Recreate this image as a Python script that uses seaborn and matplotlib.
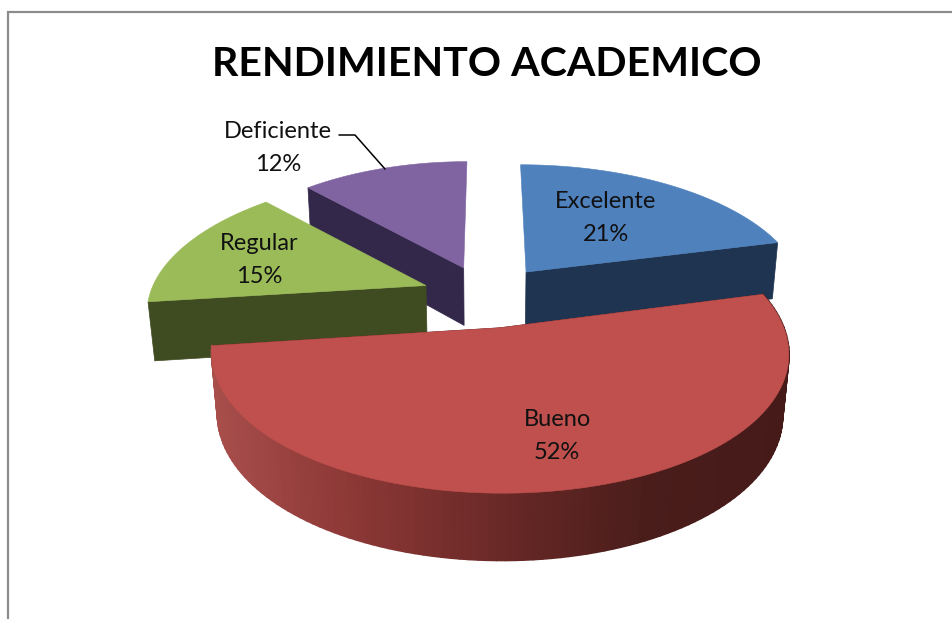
import numpy as np
import matplotlib
matplotlib.use('Agg')
import matplotlib.pyplot as plt
import seaborn as sns

categories = ['Excelente', 'Bueno', 'Regular', 'Deficiente']
values = [21, 52, 15, 12]
top_colors = ['#4F81BD', '#C0504D', '#9BBB59', '#8064A2']
wall_colors = ['#1F3450', '#4A1D1B', '#3F4B20', '#33284A']
title = 'RENDIMIENTO ACADEMICO'

sns.set_theme(style='white')
plt.rcParams['font.family'] = ['Lato', 'DejaVu Sans']

# projection settings, fitted by eye
CX, CY = 487, 296
RX, RY = 274, 130
EXPLODE = 0.24
PERSP_X, PERSP_Y, PERSP_Z = 0.17, 0.15, 0.02
DEPTH = 60
WIDEN = [1.025, 0.995, 1.01, 0.98]
HIDDEN_WALLS = [(0, 0), (3, 1), (2, 1)]


def project(X, Y, z=0.0):
    wx = 1 - PERSP_X * Y + PERSP_Z * z
    wy = 1 - PERSP_Y * Y + PERSP_Z * z
    return CX + RX * X / wx, CY + (RY * Y + DEPTH * z) / wy


def rim(a0, a1, dx, dy, widen, n=120):
    t = np.radians(np.linspace(a0, a1, n))
    return dx + widen * np.sin(t), dy - np.cos(t)


fig, ax = plt.subplots(figsize=(9.52, 6.19), dpi=100)
fig.subplots_adjust(0, 0, 1, 1)
ax.set_xlim(0, 952)
ax.set_ylim(619, 0)
ax.axis('off')

# chart frame (cropped on the right and at the bottom)
ax.plot([8, 8, 952], [619, 12, 12], color='#8C8C8C', lw=1.6, solid_joinstyle='miter')

fracs = np.array(values) / sum(values) * 360
starts = np.concatenate([[0], np.cumsum(fracs)[:-1]])
ends = starts + fracs

shade = sns.blend_palette(['#A84F4C', '#8B3735', '#692927', '#4A1D1B', '#451A18'], 200)

# back slices first, Bueno in front
for i in [3, 2, 0, 1]:
    a0, a1 = starts[i], ends[i]
    mid = np.radians((a0 + a1) / 2)
    dx, dy = EXPLODE * np.sin(mid), -EXPLODE * np.cos(mid)
    rx, ry = rim(a0, a1, dx, dy, WIDEN[i])

    # flat walls running from the apex to the rim
    for j, (ex, ey) in enumerate([(rx[0], ry[0]), (rx[-1], ry[-1])]):
        if (i, j) in HIDDEN_WALLS:
            continue
        px, py = project(np.array([dx, ex, ex, dx]), np.array([dy, ey, ey, dy]),
                         np.array([0, 0, 1, 1]))
        ax.fill(px, py, color=wall_colors[i], lw=0.5)

    # outer wall, only Bueno shows it; strips carry the shading
    if i == 1:
        for k in range(len(rx) - 1):
            wx = np.array([rx[k], rx[k + 1], rx[k + 1], rx[k]])
            wy = np.array([ry[k], ry[k + 1], ry[k + 1], ry[k]])
            px, py = project(wx, wy, np.array([0, 0, 1, 1]))
            pos = np.clip((px.mean() - 210) / 580, 0, 0.999)
            ax.fill(px, py, color=shade[int(pos * 200)], lw=1.4, joinstyle='round')

    # top face
    px, py = project(np.r_[dx, rx], np.r_[dy, ry])
    ax.fill(px, py, color=top_colors[i], lw=0.4)

label_pos = [(606, 218), (557, 436), (259, 260), (278, 148)]
for name, v, (lx, ly) in zip(categories, values, label_pos):
    ax.text(lx, ly, f'{name}\n{v}%', ha='center', va='center', fontsize=17,
            color='#111111', linespacing=1.65)

# leader line for Deficiente
ax.plot([339, 355, 385], [135, 135, 169], color='black', lw=1.1)

ax.text(487, 64, title, ha='center', va='center', fontsize=29.6, fontweight='bold', color='black')

fig.savefig('out.png', dpi=100)
